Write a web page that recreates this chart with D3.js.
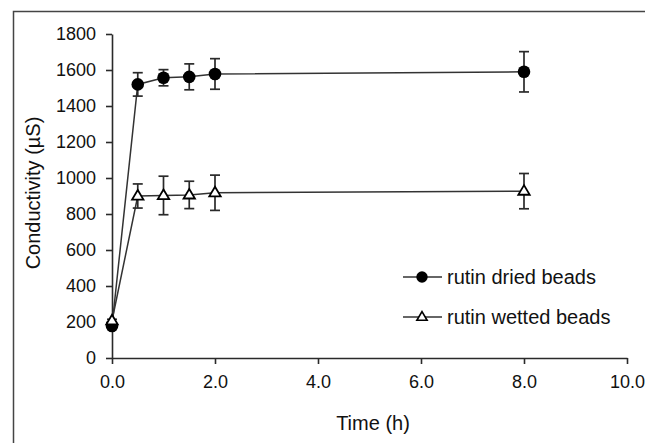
<!DOCTYPE html>
<html><head><meta charset="utf-8">
<script src="https://cdn.jsdelivr.net/npm/d3@7"></script>
<style>body{margin:0;background:#fff}svg{display:block}text{font-family:"Liberation Sans",Arial,sans-serif;fill:#111}</style>
</head><body>
<script>
const times = [0, 0.5, 1, 1.5, 2, 8];
const driedValues = [178, 1520, 1557, 1562, 1578, 1590];
const driedErrors = [10, 65, 45, 72, 85, 112];
const wettedValues = [207, 900, 903, 906, 918, 927];
const wettedErrors = [8, 67, 107, 76, 98, 98];
const xTicks = [0, 2, 4, 6, 8, 10];
const yTicks = [0, 200, 400, 600, 800, 1000, 1200, 1400, 1600, 1800];
const seriesNames = ["rutin dried beads", "rutin wetted beads"];

const W = 645, H = 443;
const svg = d3.select("body").append("svg").attr("width", W).attr("height", H);
const ink = "#2a2a2a";

// outer frame (left & top visible)
svg.append("path").attr("d", `M13.5,${H} V11.5 H${W}`).attr("fill","none").attr("stroke","#444").attr("stroke-width",1.5);

const x = d3.scaleLinear().domain([0, 10]).range([112, 627]);
const y = d3.scaleLinear().domain([0, 1800]).range([358, 34]);

const xAxis = svg.append("g").attr("transform", "translate(0,358)")
  .call(d3.axisBottom(x).tickValues(xTicks).tickFormat(d3.format(".1f")).tickSize(6).tickSizeOuter(0));
const yAxis = svg.append("g").attr("transform", "translate(112,0)")
  .call(d3.axisLeft(y).tickValues(yTicks).tickFormat(d3.format("d")).tickSize(6).tickSizeOuter(0));
[xAxis, yAxis].forEach(g => {
  g.select(".domain").attr("stroke", ink).attr("stroke-width", 1.6);
  g.selectAll(".tick line").attr("stroke", ink).attr("stroke-width", 1.6);
  g.selectAll(".tick text").attr("font-size", 18).attr("fill", "#111").attr("font-family", '"Liberation Sans",Arial,sans-serif');
});
xAxis.selectAll(".tick text").attr("dy", "0.71em").attr("y", 17);
yAxis.selectAll(".tick text").attr("x", -16);

svg.append("text").attr("x", 373).attr("y", 430).attr("text-anchor", "middle").attr("font-size", 20).text("Time (h)");
svg.append("text").attr("transform", "translate(40,193) rotate(-90)").attr("text-anchor", "middle").attr("font-size", 20).text("Conductivity (µS)");

const line = d3.line().x(d => x(d.t)).y(d => y(d.v));
function draw(values, errors, type) {
  const data = times.map((t, i) => ({t, v: values[i], e: errors[i]}));
  svg.append("path").datum(data).attr("d", line).attr("fill", "none").attr("stroke", "#333").attr("stroke-width", 1.5);
  const eb = svg.append("g").attr("stroke", ink).attr("stroke-width", 1.7);
  data.forEach(d => {
    const cx = x(d.t);
    eb.append("line").attr("x1", cx).attr("x2", cx).attr("y1", y(d.v + d.e)).attr("y2", y(d.v - d.e));
    [d.v + d.e, d.v - d.e].forEach(v => eb.append("line").attr("x1", cx - 5).attr("x2", cx + 5).attr("y1", y(v)).attr("y2", y(v)));
  });
  data.forEach(d => marker(x(d.t), y(d.v), type, 1));
}
function marker(cx, cy, type, s) {
  if (type === "circle") {
    svg.append("circle").attr("cx", cx).attr("cy", cy).attr("r", 6.3 * s).attr("fill", "#000");
  } else {
    const r = 6 * s;
    svg.append("path").attr("d", `M${cx},${cy - r} L${cx + r * 0.95},${cy + r * 0.6} L${cx - r * 0.95},${cy + r * 0.6} Z`)
      .attr("fill", "#fff").attr("stroke", "#000").attr("stroke-width", 1.8 * Math.max(s, 0.8));
  }
}
draw(driedValues, driedErrors, "circle");
draw(wettedValues, wettedErrors, "triangle");

// legend
const legY = [277, 317];
const types = ["circle", "triangle"];
seriesNames.forEach((name, i) => {
  svg.append("line").attr("x1", 403).attr("x2", 442).attr("y1", legY[i]).attr("y2", legY[i]).attr("stroke", "#333").attr("stroke-width", 1.5);
  marker(422, legY[i], types[i], 0.9);
  svg.append("text").attr("x", 447).attr("y", legY[i]).attr("dy", "0.35em").attr("font-size", 20).text(name);
});
</script>
</body></html>
